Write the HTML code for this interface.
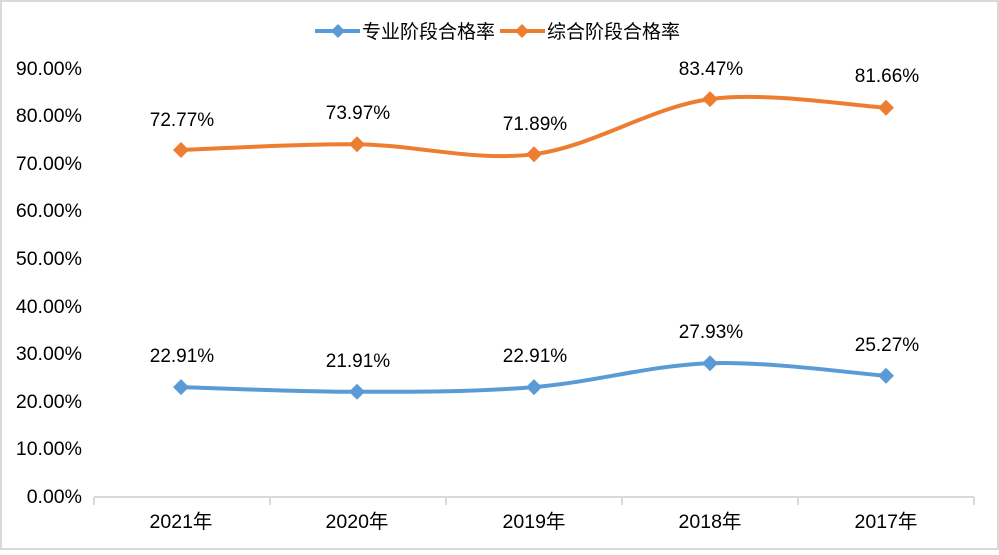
<!DOCTYPE html>
<html><head><meta charset="utf-8"><style>
body{margin:0;background:#fff}
svg text{font-family:"Liberation Sans","Noto Sans CJK SC",sans-serif;fill:#000}
</style></head><body>
<svg width="999" height="550" viewBox="0 0 999 550" xmlns="http://www.w3.org/2000/svg">
<rect x="1" y="1" width="997" height="548" fill="#fff" stroke="#d9d9d9" stroke-width="2"/>
<g font-size="19.5" text-anchor="end">
<text x="82" y="503">0.00%</text>
<text x="82" y="455">10.00%</text>
<text x="82" y="408">20.00%</text>
<text x="82" y="360">30.00%</text>
<text x="82" y="313">40.00%</text>
<text x="82" y="265">50.00%</text>
<text x="82" y="217">60.00%</text>
<text x="82" y="170">70.00%</text>
<text x="82" y="122">80.00%</text>
<text x="82" y="75">90.00%</text>
</g>
<g stroke="#d9d9d9" stroke-width="2" fill="none">
<line x1="94" y1="497" x2="974" y2="497"/>
<line x1="94" y1="497" x2="94" y2="505"/>
<line x1="270" y1="497" x2="270" y2="505"/>
<line x1="446" y1="497" x2="446" y2="505"/>
<line x1="622" y1="497" x2="622" y2="505"/>
<line x1="798" y1="497" x2="798" y2="505"/>
<line x1="974" y1="497" x2="974" y2="505"/>
</g>
<g font-size="19.5" text-anchor="middle">
<text x="181" y="528">2021年</text>
<text x="357" y="528">2020年</text>
<text x="534" y="528">2019年</text>
<text x="710" y="528">2018年</text>
<text x="886" y="528">2017年</text>
</g>
<path d="M181,387.1 C210.3,387.9 298.2,391.8 357,391.8 C415.8,391.8 475.2,391.9 534,387.1 C592.8,382.3 651.3,365.1 710,363.2 C768.7,361.3 856.7,373.7 886,375.8" stroke="#5b9bd5" stroke-width="4" fill="none"/>
<path d="M181,150 C210.3,149.05 298.2,143.6 357,144.3 C415.8,145 475.2,161.7 534,154.2 C592.8,146.7 651.3,106.85 710,99.1 C768.7,91.35 856.7,106.3 886,107.7" stroke="#ed7d31" stroke-width="4" fill="none"/>
<g fill="#5b9bd5">
<path d="M181,379.1l8,8l-8,8l-8,-8z"/><path d="M357,383.8l8,8l-8,8l-8,-8z"/><path d="M534,379.1l8,8l-8,8l-8,-8z"/><path d="M710,355.2l8,8l-8,8l-8,-8z"/><path d="M886,367.8l8,8l-8,8l-8,-8z"/>
</g>
<g fill="#ed7d31">
<path d="M181,142l8,8l-8,8l-8,-8z"/><path d="M357,136.3l8,8l-8,8l-8,-8z"/><path d="M534,146.2l8,8l-8,8l-8,-8z"/><path d="M710,91.1l8,8l-8,8l-8,-8z"/><path d="M886,99.7l8,8l-8,8l-8,-8z"/>
</g>
<g font-size="19" text-anchor="middle">
<text x="182" y="362">22.91%</text>
<text x="358" y="367">21.91%</text>
<text x="535" y="362">22.91%</text>
<text x="711" y="338">27.93%</text>
<text x="887" y="351">25.27%</text>
<text x="182" y="126">72.77%</text>
<text x="358" y="119">73.97%</text>
<text x="535" y="130">71.89%</text>
<text x="711" y="75">83.47%</text>
<text x="887" y="82">81.66%</text>
</g>
<line x1="315" y1="31" x2="360" y2="31" stroke="#5b9bd5" stroke-width="4"/>
<path d="M338,24l7,7l-7,7l-7,-7z" fill="#5b9bd5"/>
<text x="362" y="38" font-size="19">专业阶段合格率</text>
<line x1="500" y1="31" x2="545" y2="31" stroke="#ed7d31" stroke-width="4"/>
<path d="M522,24l7,7l-7,7l-7,-7z" fill="#ed7d31"/>
<text x="547" y="38" font-size="19">综合阶段合格率</text>
</svg>
</body></html>
